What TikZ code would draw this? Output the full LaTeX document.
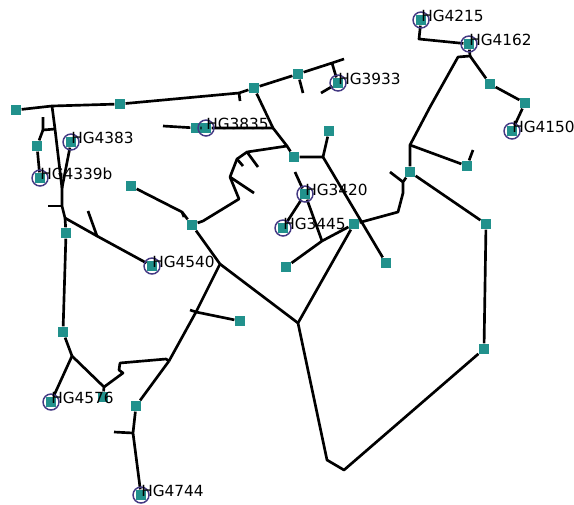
\documentclass[tikz,border=0pt]{standalone}
\usepackage{fontspec}
\setmainfont{DejaVu Sans}

\definecolor{sitecol}{RGB}{33,145,140}
\definecolor{ringcol}{RGB}{68,57,131}

\tikzset{
  site/.style={rectangle, fill=sitecol, minimum size=8pt, inner sep=0pt},
  ring/.style={circle, draw=ringcol, line width=1.1pt, minimum size=12pt, inner sep=0pt},
  pipe/.style={line width=2pt, line join=round},
  tag/.style={anchor=base west, inner sep=0pt, yshift=-1.0pt, font=\fontsize{11.5}{13}\selectfont},
}

\begin{document}
\begin{tikzpicture}[x=0.75pt,y=0.75pt,yscale=-1,xscale=1]
\useasboundingbox (0,0) rectangle (574,504);

%Sites
\node[site] (s1) at (16,110) {};
\node[site] (s2) at (120,104) {};
\node[site] (s3) at (254,88) {};
\node[site] (s4) at (298,74) {};
\node[site] (s5) at (490,84) {};
\node[site] (s6) at (525,103) {};
\node[site] (s7) at (329,131) {};
\node[site] (s8) at (294,157) {};
\node[site] (s9) at (37,146) {};
\node[site] (s10) at (131,186) {};
\node[site] (s11) at (410,172) {};
\node[site] (s12) at (467,166) {};
\node[site] (s13) at (192,225) {};
\node[site] (s14) at (354,224) {};
\node[site] (s15) at (486,224) {};
\node[site] (s16) at (66,233) {};
\node[site] (s17) at (286,267) {};
\node[site] (s18) at (386,263) {};
\node[site] (s19) at (240,321) {};
\node[site] (s20) at (63,332) {};
\node[site] (s21) at (484,349) {};
\node[site] (s22) at (103,397) {};
\node[site] (s23) at (136,406) {};
\node[site] (s24) at (196,128) {};

%Gauged sites
\node[site] (hg4215) at (421,20) {};
\node[site] (hg4162) at (469,44) {};
\node[site] (hg3933) at (338,83) {};
\node[site] (hg4150) at (512,131) {};
\node[site] (hg3835) at (206,128) {};
\node[site] (hg4383) at (71,142) {};
\node[site] (hg4339b) at (40,178) {};
\node[site] (hg3420) at (305,194) {};
\node[site] (hg3445) at (283,228) {};
\node[site] (hg4540) at (152,266) {};
\node[site] (hg4576) at (51,402) {};
\node[site] (hg4744) at (141,495) {};

%Junctions and bends
\coordinate (j1) at (52,106);
\coordinate (j2) at (239,93);
\coordinate (j3) at (55,129);
\coordinate (j4) at (43,130);
\coordinate (j5) at (62,188);
\coordinate (j6) at (62,206);
\coordinate (j7) at (65,218);
\coordinate (j8) at (97,236);
\coordinate (j9) at (72,356);
\coordinate (j10) at (104,387);
\coordinate (j11) at (169,361);
\coordinate (j12) at (196,312);
\coordinate (j13) at (220,264);
\coordinate (j14) at (298,323);
\coordinate (j15) at (344,470);
\coordinate (j16) at (327,460);
\coordinate (j17) at (273,128);
\coordinate (j18) at (287,146);
\coordinate (j19) at (247,152);
\coordinate (j20) at (237,159);
\coordinate (j21) at (230,177);
\coordinate (j22) at (239,199);
\coordinate (j23) at (203,221);
\coordinate (j24) at (182,212);
\coordinate (j25) at (323,157);
\coordinate (j26) at (322,241);
\coordinate (j27) at (398,212);
\coordinate (j28) at (403,193);
\coordinate (j29) at (403,182);
\coordinate (j30) at (410,145);
\coordinate (j31) at (430,107);
\coordinate (j32) at (458,57);
\coordinate (j33) at (470,56);
\coordinate (j34) at (419,39);
\coordinate (j35) at (332,63);
\coordinate (j36) at (133,433);
\coordinate (k1) at (123,373);
\coordinate (k2) at (119,370);
\coordinate (k3) at (120,363);
\coordinate (k4) at (166,359);

%Stub ends
\coordinate (e1) at (344,59);
\coordinate (e2) at (240,101);
\coordinate (e3) at (303,93);
\coordinate (e4) at (321,93);
\coordinate (e5) at (43,117);
\coordinate (e6) at (48,206);
\coordinate (e7) at (88,211);
\coordinate (e8) at (163,126);
\coordinate (e9) at (258,167);
\coordinate (e10) at (243,166);
\coordinate (e11) at (254,193);
\coordinate (e12) at (184,217);
\coordinate (e13) at (295,172);
\coordinate (e14) at (390,172);
\coordinate (e15) at (473,150);
\coordinate (e16) at (190,310);
\coordinate (e17) at (114,432);

%Pipes
\draw[pipe] (s1) -- (j1) -- (s2) -- (j2) -- (s3) -- (s4) -- (j35) -- (e1);
\draw[pipe] (j2) -- (e2);
\draw[pipe] (s4) -- (e3);
\draw[pipe] (j35) -- (hg3933) -- (e4);
\draw[pipe] (j1) -- (j3) -- (j5) -- (j6) -- (j7) -- (s16) -- (s20) -- (j9);
\draw[pipe] (j3) -- (j4) -- (e5);
\draw[pipe] (j4) -- (s9) -- (hg4339b);
\draw[pipe] (hg4383) -- (j5);
\draw[pipe] (j6) -- (e6);
\draw[pipe] (j7) -- (j8) -- (hg4540);
\draw[pipe] (j8) -- (e7);
\draw[pipe] (j9) -- (hg4576);
\draw[pipe] (j9) -- (j10) -- (s22);
\draw[pipe] (j10) -- (k1) -- (k2) -- (k3) -- (k4) -- (j11);
\draw[pipe] (j11) -- (s23) -- (j36) -- (hg4744);
\draw[pipe] (e17) -- (j36);
\draw[pipe] (j11) -- (j12) -- (j13) -- (s13);
\draw[pipe] (e16) -- (j12) -- (s19);
\draw[pipe] (j13) -- (j14);
\draw[pipe] (s10) -- (j24) -- (s13);
\draw[pipe] (j24) -- (e12);
\draw[pipe] (s13) -- (j23) -- (j22) -- (j21) -- (j20) -- (j19) -- (j18);
\draw[pipe] (j19) -- (e9);
\draw[pipe] (j20) -- (e10);
\draw[pipe] (j21) -- (e11);
\draw[pipe] (s3) -- (j17) -- (j18) -- (s8);
\draw[pipe] (e8) -- (s24) -- (hg3835) -- (j17);
\draw[pipe] (s8) -- (j25) -- (s7);
\draw[pipe] (j25) -- (s18);
\draw[pipe] (e13) -- (hg3420) -- (j26);
\draw[pipe] (hg3420) -- (hg3445);
\draw[pipe] (s14) -- (j26) -- (s17);
\draw[pipe] (s14) -- (j27) -- (j28) -- (j29) -- (s11);
\draw[pipe] (j29) -- (e14);
\draw[pipe] (s14) -- (j14) -- (j16) -- (j15) -- (s21) -- (s15) -- (s11);
\draw[pipe] (s11) -- (j30) -- (j31) -- (j32) -- (j33) -- (hg4162);
\draw[pipe] (j33) -- (s5) -- (s6) -- (hg4150);
\draw[pipe] (j30) -- (s12) -- (e15);
\draw[pipe] (hg4162) -- (j34) -- (hg4215);

%Gauge rings
\node[ring] (r4215) at (hg4215) {};
\node[ring] (r4162) at (hg4162) {};
\node[ring] (r3933) at (hg3933) {};
\node[ring] (r4150) at (hg4150) {};
\node[ring] (r3835) at (hg3835) {};
\node[ring] (r4383) at (hg4383) {};
\node[ring] (r4339b) at (hg4339b) {};
\node[ring] (r3420) at (hg3420) {};
\node[ring] (r3445) at (hg3445) {};
\node[ring] (r4540) at (hg4540) {};
\node[ring] (r4576) at (hg4576) {};
\node[ring] (r4744) at (hg4744) {};

% Text Node
\node[tag] (t4215) at (hg4215) {HG4215};
\node[tag] (t4162) at (hg4162) {HG4162};
\node[tag] (t3933) at (hg3933) {HG3933};
\node[tag] (t4150) at (hg4150) {HG4150};
\node[tag] (t3835) at (hg3835) {HG3835};
\node[tag] (t4383) at (hg4383) {HG4383};
\node[tag] (t4339b) at (hg4339b) {HG4339b};
\node[tag] (t3420) at (hg3420) {HG3420};
\node[tag] (t3445) at (hg3445) {HG3445};
\node[tag] (t4540) at (hg4540) {HG4540};
\node[tag] (t4576) at (hg4576) {HG4576};
\node[tag] (t4744) at (hg4744) {HG4744};

\end{tikzpicture}
\end{document}
